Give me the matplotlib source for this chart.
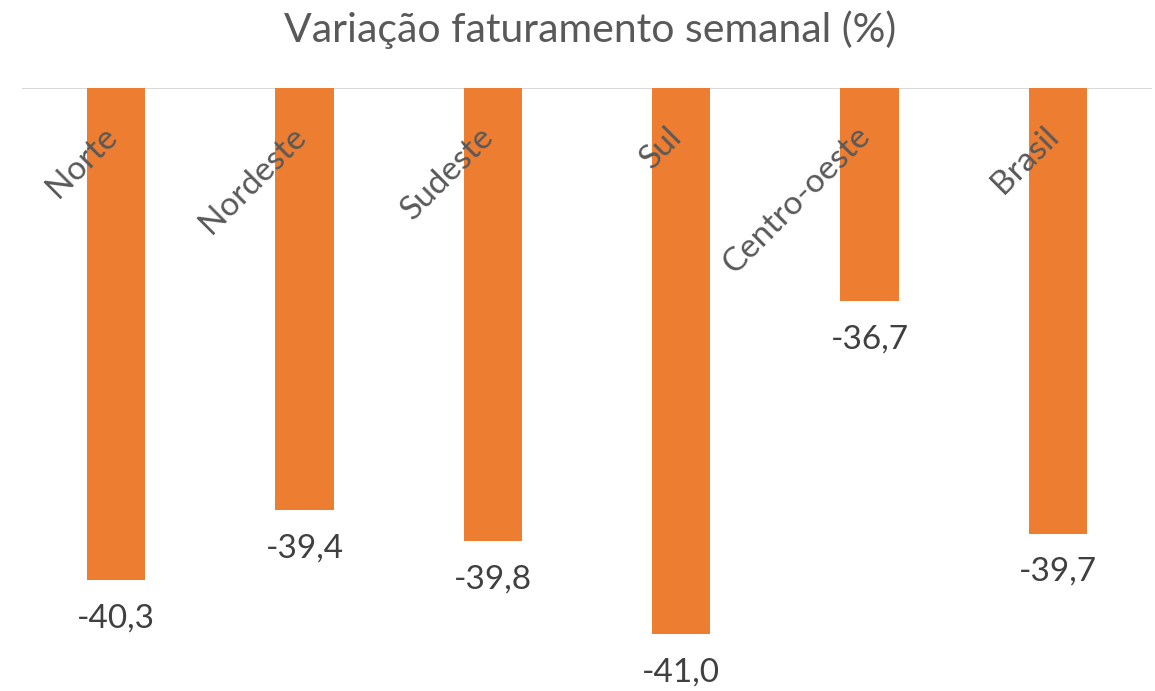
import numpy as np
import matplotlib.pyplot as plt

plt.rcParams['font.family'] = ['Lato', 'DejaVu Sans']

# dados
regioes = ['Norte', 'Nordeste', 'Sudeste', 'Sul', 'Centro-oeste', 'Brasil']
variacao = [-40.3, -39.4, -39.8, -41.0, -36.7, -39.7]
rotulos = ['-40,3', '-39,4', '-39,8', '-41,0', '-36,7', '-39,7']

topo = -33.95      # valor onde o eixo cruza (linha do topo)
base = -41.73

cor_barra = '#ED7D31'
cor_texto = '#595959'

fig = plt.figure(figsize=(11.55, 6.91), dpi=100)
ax = fig.add_axes([22 / 1155, 0, 1130 / 1155, 1 - 88 / 691])

x = np.arange(len(regioes))
alturas = [v - topo for v in variacao]
ax.bar(x, alturas, bottom=topo, width=0.31, color=cor_barra)
ax.axhline(topo, color='#D9D9D9', lw=1.5, zorder=0)

ax.set_xlim(-0.5, len(regioes) - 0.5)
ax.set_ylim(base, topo)
ax.axis('off')

# nomes das regiões, inclinados, no topo das barras
for i, nome in enumerate(regioes):
    ax.annotate(nome, xy=(i, topo), xytext=(7, -33), textcoords='offset pixels',
                rotation=45, ha='right', va='top', fontsize=24, color=cor_texto,
                annotation_clip=False)

# valores abaixo das barras
for i, (v, r) in enumerate(zip(variacao, rotulos)):
    ax.annotate(r, xy=(i, v), xytext=(0, -38), textcoords='offset pixels',
                ha='center', va='center', fontsize=24, color='#404040',
                annotation_clip=False)

fig.text(590 / 1155, 1 - 30 / 691, 'Variação faturamento semanal (%)',
         ha='center', va='center', fontsize=29.5, color=cor_texto)

fig.savefig('out.png', dpi=100)
